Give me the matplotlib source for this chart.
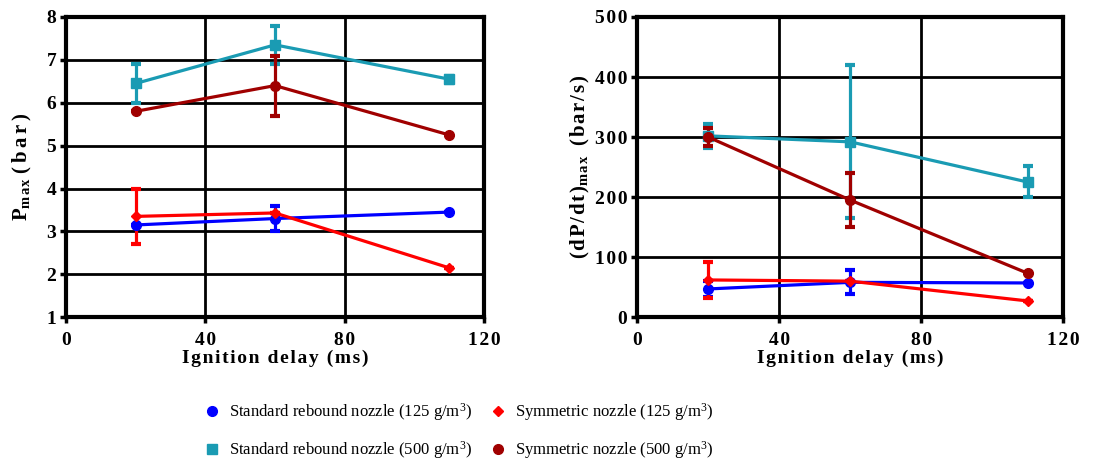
import matplotlib
matplotlib.use("Agg")
import matplotlib.pyplot as plt
from matplotlib.lines import Line2D
import numpy as np

plt.rcParams['font.family'] = ['Liberation Serif', 'DejaVu Serif']
plt.rcParams['mathtext.default'] = 'regular'

x = [20, 60, 110]
# Pmax (bar)
p_std125 = [3.15, 3.3, 3.45]
p_std125_err = [0.0, 0.3, 0.0]
p_sym125 = [3.35, 3.43, 2.15]
p_sym125_err = [0.65, 0.0, 0.0]
p_std500 = [6.45, 7.35, 6.55]
p_std500_err = [0.45, 0.45, 0.08]
p_sym500 = [5.8, 6.4, 5.25]
p_sym500_err = [0.0, 0.7, 0.0]

# (dP/dt)max (bar/s)
r_std125 = [47, 58, 57]
r_std125_err = [14, 20, 0]
r_sym125 = [62, 60, 27]
r_sym125_err = [30, 0, 0]
r_std500 = [302, 292, 225]
r_std500_lo = [20, 127, 25]
r_std500_hi = [20, 128, 27]
r_sym500 = [300, 195, 73]
r_sym500_err = [15, 45, 0]

series_names = ["Standard rebound nozzle", "Standard rebound nozzle",
                "Symmetric nozzle", "Symmetric nozzle"]
series_conc = ["125", "500", "125", "500"]

c_blue = '#0000ff'
c_red = '#ff0000'
c_teal = '#1a9bb3'
c_dred = '#a00000'
styles = [(c_blue, 'o', 7), (c_teal, 's', 7), (c_red, 'D', 5), (c_dred, 'o', 7)]

HS = '\u200a'
def spaced(s, sep=HS):
    return sep.join(list(s))

fig = plt.figure(figsize=(11.10, 4.59), dpi=100)
ax1 = fig.add_axes([0.0595, 0.309, 0.3765, 0.654])
ax2 = fig.add_axes([0.574, 0.309, 0.384, 0.654])

def draw(ax, ys, errs):
    for y, e, (c, m, ms) in zip(ys, errs, styles):
        ax.errorbar(x, y, yerr=e, color=c, marker=m, markersize=ms, lw=2.3,
                    elinewidth=2.3, capsize=3.5, capthick=3, zorder=3)

draw(ax1, [p_std125, p_std500, p_sym125, p_sym500],
     [p_std125_err, p_std500_err, p_sym125_err, p_sym500_err])
draw(ax2, [r_std125, r_std500, r_sym125, r_sym500],
     [r_std125_err, [r_std500_lo, r_std500_hi], r_sym125_err, r_sym500_err])

ax1.set_xlim(0, 120)
ax1.set_ylim(1, 8)
ax1.set_yticks(np.arange(1, 9, 1))
ax2.set_xlim(0, 120)
ax2.set_ylim(0, 500)
ax2.set_yticks(np.arange(0, 501, 100))

for ax in (ax1, ax2):
    ax.set_xticks([0, 40, 80, 120])
    ax.set_xticklabels([spaced(str(v)) for v in [0, 40, 80, 120]], fontweight='bold', fontsize=14)
    ax.set_yticklabels([spaced(str(int(v))) for v in ax.get_yticks()], fontweight='bold', fontsize=14)
    ax.grid(True, color='black', lw=2)
    ax.set_axisbelow(True)
    for s in ax.spines.values():
        s.set_linewidth(3)
    ax.tick_params(axis='x', width=2.5, length=4, direction='out', pad=7)
    ax.tick_params(axis='y', width=2.5, length=4, direction='out', pad=3)
    ax.set_xlabel(spaced('Ignition delay (ms)'), fontweight='bold', fontsize=14, labelpad=0)

ax1.set_ylabel('P$_{' + spaced('max') + '}$ ' + spaced('(bar)', HS + HS), fontweight='bold', fontsize=15, labelpad=9)
ax2.set_ylabel(spaced('(dP/dt)', HS) + '$_{' + spaced('max') + '}$  ' + spaced('(bar/s)', HS), fontweight='bold', fontsize=15, labelpad=2)

handles = [Line2D([], [], color=c, marker=m, markersize=ms, lw=0) for (c, m, ms) in styles]
labels = [n + ' (' + cc + ' g/m$^{3}$)' for n, cc in zip(series_names, series_conc)]
fig.legend(handles, labels, loc='center', bbox_to_anchor=(0.413, 0.061), ncol=2, frameon=False,
           fontsize=12, handlelength=1.0, handletextpad=0.5, columnspacing=1.1,
           labelspacing=1.0)

fig.savefig('out.png', dpi=100)
